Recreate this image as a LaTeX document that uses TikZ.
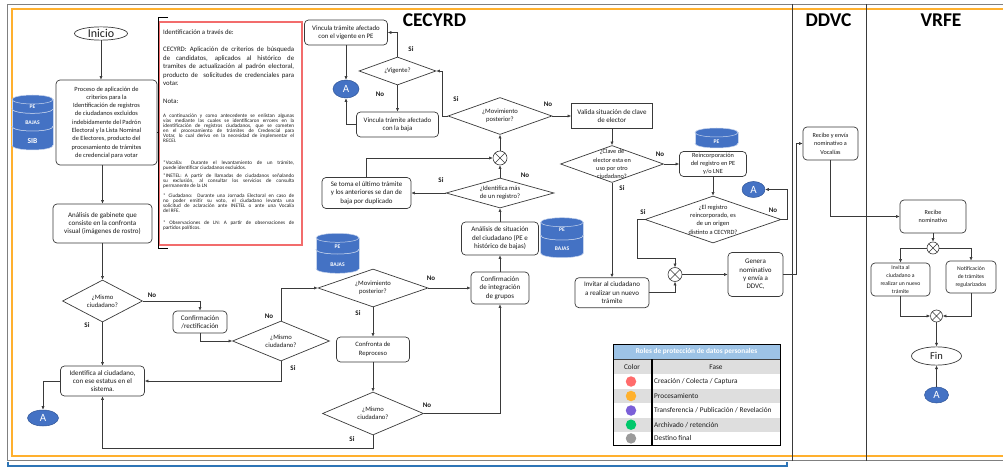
\documentclass[tikz,border=0pt]{standalone}
\usepackage{fontspec}
\setmainfont{Carlito}
\usetikzlibrary{shapes.geometric,arrows.meta}
\definecolor{lc}{HTML}{3A3A3A}
\definecolor{txt}{HTML}{1A1A1A}
\definecolor{dbblue}{HTML}{4472C4}
\definecolor{dbedge}{HTML}{2F5597}
\definecolor{frgrey}{HTML}{808080}
\definecolor{frorange}{HTML}{FFB02E}
\definecolor{frblue}{HTML}{2E75B6}
\definecolor{notered}{RGB}{242,108,108}
\definecolor{hdrblue}{HTML}{9DC3E6}
\definecolor{rowgrey}{HTML}{DEDEDE}
\definecolor{cred}{HTML}{FF6B6B}
\definecolor{corange}{HTML}{FFB12E}
\definecolor{cpurple}{HTML}{7B5FD8}
\definecolor{cgreen}{HTML}{00C86B}
\definecolor{cgrey}{HTML}{9A9A9A}
\newcommand\fsz[2]{\fontsize{#1}{#2}\selectfont\lineskiplimit=-20pt\relax}
% cylinder segment: cx, ytop, ybot, half width, y radius
\newcommand\dbseg[5]{%
  \filldraw[fill=dbblue,draw=white!70!dbblue,line width=0.5pt] (#1,#3) ellipse [x radius=#4pt,y radius=#5pt];
  \fill[dbblue] (#1-#4,#2) rectangle (#1+#4,#3);
  \draw[white!70!dbblue,line width=0.5pt] (#1-#4,#2) -- (#1-#4,#3) (#1+#4,#2) -- (#1+#4,#3);
  \filldraw[fill=dbblue,draw=white!70!dbblue,line width=0.5pt] (#1,#2) ellipse [x radius=#4pt,y radius=#5pt];}
\tikzset{
  rbox/.style={draw=lc,line width=0.7pt,rounded corners=4pt,fill=white,align=center,inner sep=0pt,text=txt},
  sqbox/.style={draw=lc,line width=0.7pt,fill=white,align=center,inner sep=0pt,text=txt},
  dmd/.style={diamond,draw=lc,line width=0.7pt,fill=white,inner sep=0pt},
  dtext/.style={align=center,inner sep=0pt,text=txt,font=\fsz{6.6}{8.3}},
  gate/.style={circle,draw=lc,line width=0.6pt,fill=white,inner sep=0pt,
    path picture={\draw[lc,line width=0.6pt] (path picture bounding box.north west) -- (path picture bounding box.south east) (path picture bounding box.north east) -- (path picture bounding box.south west);}},
  conA/.style={ellipse,draw=dbedge,line width=0.5pt,fill=dbblue,text=white,inner sep=0pt,font=\fsz{11}{12}},
  termnode/.style={ellipse,draw=lc,line width=0.7pt,fill=white,inner sep=0pt},
  lbl/.style={font=\fsz{7}{8}\bfseries,text=txt,inner sep=0pt},
  conn/.style={draw=lc,line width=0.6pt,-{Latex[length=3.6pt,width=3.2pt]}},
  dbtext/.style={text=white,font=\fsz{5.6}{6}\bfseries,inner sep=0pt},
  ttl/.style={font=\fsz{19.5}{22}\bfseries,text=black,inner sep=0pt},
  notep/.style={anchor=north west,inner sep=0pt,align=left,text=txt},
  legtxt/.style={font=\fsz{7.3}{8},text=txt,inner sep=0pt},
}
\begin{document}
\begin{tikzpicture}[x=1pt,y=-1pt]
\useasboundingbox (0,0) rectangle (1003,470);
% ---------- frames ----------
\draw[frgrey,line width=1pt] (1003,4.5) -- (7,4.5) -- (7,460.5) -- (1003,460.5);
\draw[frorange,line width=1.8pt] (1003,8.8) -- (12.3,8.8) -- (12.3,455.8) -- (1003,455.8);
\draw[frblue,line width=1.6pt] (8,461.5) -- (8,466) -- (787,466) -- (787,461.5);
\draw[lc,line width=0.8pt] (792,4.5) -- (792,461) (866,4.5) -- (866,461);
% ---------- titles ----------
\node[ttl] (tCEC) at (434.5,19.7) {CECYRD};
\node[ttl] (tDDVC) at (828.5,20) {DDVC};
\node[ttl] (tVRFE) at (941,20) {VRFE};
% ---------- note ----------
\node[draw=notered,line width=2pt,minimum width=143pt,minimum height=223pt,inner sep=0pt] (note) at (230.5,133.5) {};
\draw[black,line width=0.6pt] (168,17) -- (158,17) -- (158,248) -- (168,248) (158,132) -- (154.5,132);
\node[notep,anchor=base west,font=\fsz{6.8}{8.5}] (n1) at (163,35) {Identificación a través de:};
\node[notep,font=\fsz{6.8}{8.5}] (n2) at (163,47) {\makebox[131pt][s]{CECYRD: Aplicación de criterios de búsqueda}\\
\makebox[131pt][s]{de candidatos, aplicados al histórico de}\\
\makebox[131pt][s]{tramites de actualización al padrón electoral,}\\
\makebox[131pt][s]{producto de\ \ solicitudes de credenciales para}\\
votar.};
\node[notep,anchor=base west,font=\fsz{6.8}{8.5}] (n3) at (163,103.3) {Nota:};
\node[notep,font=\fsz{5.2}{5}] (n4) at (163,113.8) {\makebox[131pt][s]{A continuación y como antecedente se enlistan algunas}\\
\makebox[131pt][s]{vías mediante las cuales se identificaron errores en la}\\
\makebox[131pt][s]{identificación de registros ciudadanos, que se cometen}\\
\makebox[131pt][s]{en el procesamiento de trámites de Credencial para}\\
\makebox[131pt][s]{Votar, lo cual derivo en la necesidad de implementar el}\\
RECEI.};
\node[notep,font=\fsz{5.2}{5}] (n5) at (163,160.4) {\makebox[131pt][s]{*Vocalía: Durante el levantamiento de un trámite,}\\
puede identificar ciudadanos excluidos.};
\node[notep,font=\fsz{5.2}{5}] (n6) at (163,173.8) {\makebox[131pt][s]{*INETEL: A partir de llamadas de ciudadanos señalando}\\
\makebox[131pt][s]{su exclusión, al consultar los servicios de consulta}\\
permanente de la LN};
\node[notep,font=\fsz{5.2}{5}] (n7) at (163,193.8) {\makebox[131pt][s]{* Ciudadano: Durante una Jornada Electoral en caso de}\\
\makebox[131pt][s]{no poder emitir su voto, el ciudadano levanta una}\\
\makebox[131pt][s]{solicitud de aclaración ante INETEL o ante una Vocalía}\\
del RFE.};
\node[notep,font=\fsz{5.2}{5}] (n8) at (163,221.1) {\makebox[131pt][s]{* Observaciones de LN: A partir de observaciones de}\\
partidos políticos.};
% ---------- databases ----------
\dbseg{32.5}{126.5}{145.5}{20.5}{4.5}
\dbseg{32.5}{108.8}{126.5}{20.5}{4.5}
\dbseg{32.5}{99.5}{108.8}{20.5}{4.5}
\node[dbtext] (dbA1) at (32.5,106.5) {PE};
\node[dbtext] (dbA2) at (32.5,123) {BAJAS};
\node[dbtext,font=\fsz{7.5}{8}\bfseries] (dbA3) at (32.5,141.5) {SIB};
\dbseg{337.5}{249.5}{268.8}{21.5}{4.5}
\dbseg{337.5}{237.8}{249.5}{21.5}{4.5}
\node[dbtext] (dbB1) at (337.5,246.7) {PE};
\node[dbtext] (dbB2) at (337.5,265) {BAJAS};
\dbseg{562}{235.5}{253.2}{21.3}{4.5}
\dbseg{562}{222.2}{235.5}{21.3}{4.5}
\node[dbtext] (dbC1) at (562,230) {PE};
\node[dbtext] (dbC2) at (562,248.3) {BAJAS};
\dbseg{716.5}{132.5}{143.5}{21.5}{4.5}
\node[dbtext] (dbD1) at (716.5,141.7) {PE};
% ---------- left column ----------
\node[termnode,minimum width=53pt,minimum height=13.3pt] (inicio) at (101,33.5) {};
\node[font=\fsz{12}{13},text=txt,inner sep=0pt] (inicioT) at (inicio) {Inicio};
\node[rbox,minimum width=101pt,minimum height=85pt,font=\fsz{6.4}{8.3}] (proc) at (106.5,122.5) {Proceso de aplicación de\\criterios para la\\Identificación de registros\\de ciudadanos excluidos\\indebidamente del Padrón\\Electoral y la Lista Nominal\\de Electores, producto del\\procesamiento de trámites\\de credencial para votar};
\node[rbox,minimum width=99pt,minimum height=39pt,font=\fsz{7}{8.3}] (gab) at (102.5,223.5) {Análisis de gabinete que\\consiste en la confronta\\visual (imágenes de rostro)};
\node[dmd,minimum width=80pt,minimum height=42pt] (d1) at (102.5,301) {};
\node[dtext] (d1t) at (d1) {¿Mismo\\ciudadano?};
\node[rbox,minimum width=54pt,minimum height=22pt,font=\fsz{7}{8.3}] (conf) at (200,322) {Confirmación\\/rectificación};
\node[dmd,minimum width=97pt,minimum height=40pt] (d2) at (281,341) {};
\node[dtext] (d2t) at (d2) {¿Mismo\\ciudadano?};
\node[rbox,minimum width=84pt,minimum height=30pt,font=\fsz{7}{8.3}] (ident) at (102.5,381) {Identifica al ciudadano,\\con ese estatus en el\\sistema.};
\node[conA,minimum width=31pt,minimum height=16pt] (a1) at (43,418) {A};
% ---------- CECYRD middle ----------
\node[dmd,minimum width=110pt,minimum height=38pt] (d3) at (373,288) {};
\node[dtext] (d3t) at (d3) {¿Movimiento\\posterior?};
\node[rbox,minimum width=58pt,minimum height=32pt,font=\fsz{7}{8.3}] (confint) at (500,288) {Confirmación\\de integración\\de grupos};
\node[rbox,minimum width=77pt,minimum height=33pt,font=\fsz{7}{8.6}] (anal) at (500,238.5) {Análisis de situación\\del ciudadano (PE e\\histórico de bajas)};
\node[rbox,minimum width=73pt,minimum height=25pt,font=\fsz{6.6}{8.6}] (confr) at (373,349.5) {Confronta de\\Reproceso};
\node[dmd,minimum width=101pt,minimum height=43pt] (d4) at (373,413.5) {};
\node[dtext] (d4t) at (d4) {¿Mismo\\ciudadano?};
\node[dmd,minimum width=108pt,minimum height=30pt] (dIdent) at (500,193) {};
\node[dtext] (dIdentt) at (dIdent) {¿Identifica más\\de un registro?};
\node[rbox,minimum width=89pt,minimum height=31pt,font=\fsz{6.9}{8.4}] (setoma) at (366.5,193) {Se toma el último trámite\\y los anteriores se dan de\\baja por duplicado};
\node[gate,minimum size=14pt] (gx1) at (500,158) {};
\node[dmd,minimum width=104pt,minimum height=37pt] (dMov) at (500,116) {};
\node[dtext] (dMovt) at (dMov) {¿Movimiento\\posterior?};
\node[dmd,minimum width=77pt,minimum height=28pt] (vig) at (397.5,71) {};
\node[dtext] (vigt) at (vig) {¿Vigente?};
\node[rbox,minimum width=83pt,minimum height=25pt,font=\fsz{6.8}{8.3}] (vinc1) at (346,32.5) {Vincula trámite afectado\\con el vigente en PE};
\node[rbox,minimum width=82pt,minimum height=25pt,font=\fsz{6.8}{8.3}] (vinc2) at (397.5,124.5) {Vincula trámite afectado\\con la baja};
\node[conA,minimum width=26pt,minimum height=18pt] (a2) at (346,89) {A};
% ---------- CECYRD right ----------
\node[sqbox,minimum width=81pt,minimum height=25pt,font=\fsz{7}{8.5}] (valida) at (612,116) {Valida situación de clave\\de elector};
\node[dmd,minimum width=103pt,minimum height=37pt] (dClave) at (612,164) {};
\node[dtext,font=\fsz{6.3}{8.3}] (dClavet) at (dClave) {¿Clave de\\elector esta en\\uso por otro\\ciudadano?};
\node[rbox,minimum width=67pt,minimum height=25pt,font=\fsz{6.3}{8.3}] (reinc) at (713,164) {Reincorporación\\del registro en PE\\y/o LNE};
\node[dmd,minimum width=136pt,minimum height=47pt] (dReg) at (713,219.5) {};
\node[dtext,font=\fsz{6.4}{8.3}] (dRegt) at (dReg) {¿El registro\\reincorporado, es\\de un origen\\distinto a CECYRD?};
\node[conA,minimum width=23pt,minimum height=16pt] (a3) at (753.5,189.5) {A};
\node[rbox,minimum width=74pt,minimum height=30pt,font=\fsz{7}{8.4}] (invitar) at (612,292.7) {Invitar al ciudadano\\a realizar un nuevo\\trámite};
\node[gate,minimum size=14pt] (gx2) at (675,274.5) {};
\node[rbox,minimum width=55pt,minimum height=44pt,font=\fsz{7}{8.3}] (genera) at (755.5,274.5) {Genera\\nominativo\\y envía a\\DDVC,};
% ---------- DDVC / VRFE ----------
\node[rbox,minimum width=55pt,minimum height=33pt,font=\fsz{6.2}{8.6}] (recibe1) at (830.5,143.5) {Recibe y envía\\nominativo a\\Vocalías};
\node[rbox,minimum width=66pt,minimum height=33pt,font=\fsz{6.2}{8.6}] (recibe2) at (933,216.5) {Recibe\\nominativo};
\node[gate,minimum size=12pt] (gx3) at (933,248) {};
\node[rbox,minimum width=59pt,minimum height=33pt,font=\fsz{5.7}{8}] (invita) at (900.5,279.5) {Invita al\\ciudadano a\\realizar un nuevo\\trámite};
\node[rbox,minimum width=50pt,minimum height=32pt,font=\fsz{5.7}{7.7}] (notif) at (971,277) {Notificación\\de trámites\\regularizados};
\node[gate,minimum size=12pt] (gx4) at (936.5,316) {};
\node[termnode,minimum width=50pt,minimum height=18.3pt] (fin) at (936.5,356) {};
\node[font=\fsz{10.5}{12},text=txt,inner sep=0pt] (finT) at (fin) {Fin};
\node[conA,minimum width=24pt,minimum height=16pt] (a4) at (936.5,395) {A};
% ---------- bend coordinates ----------
\coordinate (kMov) at (442,116);
\coordinate (kReg) at (675,258);
\coordinate (kRegL) at (637,219.5);
\coordinate (kRegR) at (787,219.5);
\coordinate (kGen) at (796,274.5);
\coordinate (kBot) at (373,448);
% ---------- connectors ----------
\draw[conn] (inicio.south) -- (inicio.south |- proc.north);
\draw[conn] (gab.north |- proc.south) -- (gab.north);
\draw[conn] (gab.south) -- (d1.north);
\draw[conn] (d1.east) -| (conf.north);
\draw[conn] (d1.south) -- (ident.north);
\draw[conn] (conf.south) |- (d2.west);
\draw[conn] (d2.north) |- (d3.west);
\draw[conn] (d2.south) |- (ident.east);
\draw[conn] (ident.west) -| (a1.north);
\draw[conn] (d3.east) -- (confint.west);
\draw[conn] (d3.south) -- (confr.north);
\draw[conn] (confr.south) -- (d4.north);
\draw[conn] (d4.south) -- (kBot) -| (ident.south);
\draw[conn] (d4.east) -| (confint.south);
\draw[conn] (confint.north) -- (anal.south);
\draw[conn] (anal.north) -- (dIdent.south);
\draw[conn] (dIdent.west) -- (setoma.east);
\draw[conn] (setoma.north) |- (gx1.west);
\draw[conn] (dIdent.north) -- (gx1.south);
\draw[conn] (gx1.north) -- (dMov.south);
\draw[conn] (dMov.west) -- (kMov) |- (vig.east);
\draw[conn] (vig.north) |- (vinc1.east);
\draw[conn] (vig.south) -- (vinc2.north);
\draw[conn] (vinc1.south) -- (a2.north);
\draw[conn] (vinc2.west) -| (a2.south);
\draw[conn] (dMov.east) -- (valida.west);
\draw[conn] (valida.south) -- (dClave.north);
\draw[conn] (dClave.east) -- (reinc.west);
\draw[conn] (reinc.south) -- (dReg.north);
\draw[conn] (dReg.west) -- (kRegL) |- (kReg) -- (gx2.north);
\draw[conn] (dReg.east) -- (kRegR) |- (a3.east);
\draw[conn] (dClave.south) -- (invitar.north);
\draw[conn] (invitar.east) -| (gx2.south);
\draw[conn] (gx2.east) -- (genera.west);
\draw[conn] (genera.east) -- (kGen) |- (recibe1.west);
\draw[conn] (recibe1.south) |- (recibe2.west);
\draw[conn] (recibe2.south) -- (gx3.north);
\draw[conn] (gx3.west) -| (invita.north);
\draw[conn] (gx3.east) -| (notif.north);
\draw[conn] (invita.south) |- (gx4.west);
\draw[conn] (notif.south) |- (gx4.east);
\draw[conn] (gx4.south) -- (fin.north);
\draw[conn] (a4.north) -- (fin.south);
% ---------- labels ----------
\node[lbl] (l1) at (152,295) {No};
\node[lbl] (l2) at (87,325) {Si};
\node[lbl] (l3) at (269,316) {No};
\node[lbl] (l4) at (293,368) {Si};
\node[lbl] (l5) at (431,278) {No};
\node[lbl] (l6) at (358,313) {Si};
\node[lbl] (l7) at (427,405) {No};
\node[lbl] (l8) at (352,439) {Si};
\node[lbl] (l9) at (411,49) {Si};
\node[lbl] (l10) at (380,94) {No};
\node[lbl] (l11) at (456,99) {Si};
\node[lbl] (l12) at (548,104) {No};
\node[lbl] (l13) at (441,180) {Si};
\node[lbl] (l14) at (525,175) {No};
\node[lbl] (l15) at (660,154) {No};
\node[lbl] (l16) at (622,188) {Si};
\node[lbl] (l17) at (643,212) {Si};
\node[lbl] (l18) at (773,210) {No};
% ---------- legend ----------
\fill[hdrblue] (613,344.3) rectangle (780,359.3);
\fill[rowgrey] (613,359.3) rectangle (780,374.3);
\fill[rowgrey] (613,388.7) rectangle (780,403.3);
\fill[rowgrey] (613,417.7) rectangle (780,431.7);
\node[legtxt,text=white,font=\fsz{7.3}{8}\bfseries] (legH) at (696.5,351.8) {Roles de protección de datos personales};
\node[legtxt] (legC) at (632,366.8) {Color};
\node[legtxt] (legF) at (716,366.8) {Fase};
\node[circle,fill=cred,minimum size=10.5pt,inner sep=0pt] (c1) at (631,381.5) {};
\node[circle,fill=corange,minimum size=10.5pt,inner sep=0pt] (c2) at (631,396) {};
\node[circle,fill=cpurple,minimum size=10.5pt,inner sep=0pt] (c3) at (631,410.5) {};
\node[circle,fill=cgreen,minimum size=10.5pt,inner sep=0pt] (c4) at (631,424.7) {};
\node[circle,fill=cgrey,minimum size=10.5pt,inner sep=0pt] (c5) at (631,438.4) {};
\node[legtxt,anchor=west] (f1) at (654,381.5) {Creación / Colecta / Captura};
\node[legtxt,anchor=west] (f2) at (654,396) {Procesamiento};
\node[legtxt,anchor=west] (f3) at (654,410.5) {Transferencia / Publicación / Revelación};
\node[legtxt,anchor=west] (f4) at (654,424.7) {Archivado / retención};
\node[legtxt,anchor=west] (f5) at (654,438.4) {Destino final};
\draw[black!75,line width=0.5pt] (613,359.3) -- (780,359.3);
\draw[black,line width=0.8pt] (613,344.3) rectangle (780,445);
\draw[black,line width=1.4pt] (652,359.3) -- (652,445);
\end{tikzpicture}
\end{document}
